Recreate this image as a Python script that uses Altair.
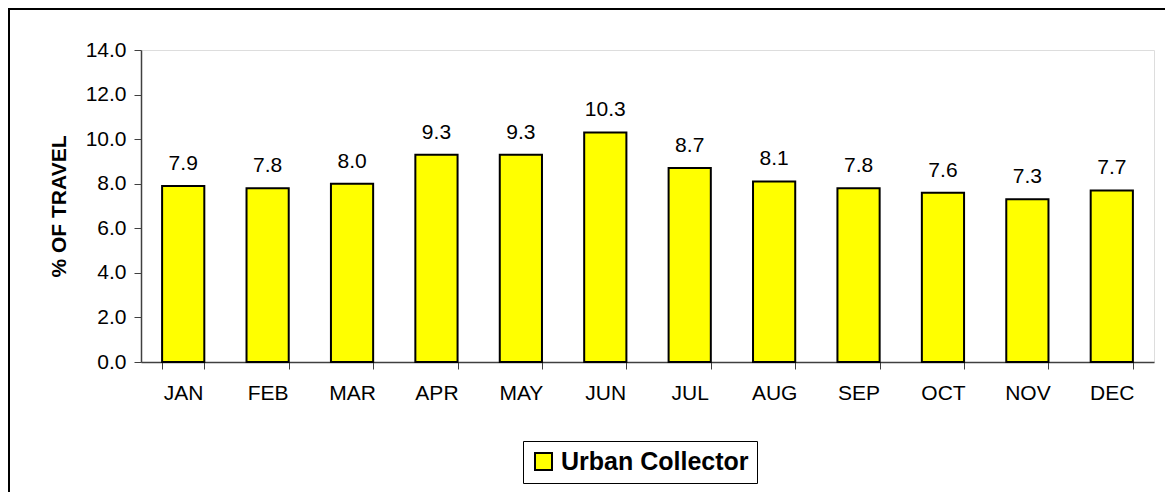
import altair as alt
import pandas as pd

months = ["JAN", "FEB", "MAR", "APR", "MAY", "JUN", "JUL", "AUG", "SEP", "OCT", "NOV", "DEC"]
values = [7.9, 7.8, 8.0, 9.3, 9.3, 10.3, 8.7, 8.1, 7.8, 7.6, 7.3, 7.7]
series = "Urban Collector"
y_ticks = [0, 2, 4, 6, 8, 10, 12, 14]

df = pd.DataFrame({"month": months, "value": values, "series": [series] * len(months)})

FONT = "Liberation Sans"
W, H = 1013, 312

x_enc = alt.X("month:N", sort=months, scale=alt.Scale(paddingInner=0.5, paddingOuter=0.25),
              axis=alt.Axis(title=None, labelAngle=0, tickBand="extent", labelFontSize=21,
                            labelFont=FONT, labelColor="black", labelPadding=13, tickSize=7,
                            domainColor="#404040", tickColor="#404040", domainWidth=1.5))
y_enc = alt.Y("value:Q", scale=alt.Scale(domain=[0, 14], nice=False),
              axis=alt.Axis(title="% OF TRAVEL", values=y_ticks, format=".1f", grid=False,
                            labelFontSize=21, labelFont=FONT, labelColor="black", labelPadding=8,
                            tickSize=7, titleFont=FONT, titleFontSize=21, titleFontWeight="bold",
                            titleColor="black", titlePadding=16,
                            domainColor="#404040", tickColor="#404040", domainWidth=1.5))

bars = alt.Chart(df).mark_bar(stroke="black", strokeWidth=2).encode(
    x=x_enc,
    y=y_enc,
    color=alt.Color("series:N", scale=alt.Scale(domain=[series], range=["#FFFF00"]),
                    legend=alt.Legend(title=None, orient="none", legendX=382, legendY=391,
                                      strokeColor="black", fillColor="white", padding=8,
                                      labelFontSize=25, labelFont=FONT, labelFontWeight="bold",
                                      labelColor="black", symbolType="square", symbolSize=289,
                                      symbolStrokeColor="black", symbolStrokeWidth=2,
                                      labelOffset=5, labelLimit=500)),
)

labels = alt.Chart(df).mark_text(font=FONT, fontSize=21, color="black", baseline="alphabetic",
                                 dy=-16).encode(
    x=alt.X("month:N", sort=months),
    y="value:Q",
    text=alt.Text("value:Q", format=".1f"),
)

border = alt.Chart(pd.DataFrame({"a": [0]})).mark_rect(fill=None, stroke="black", strokeWidth=2,
                                                       filled=False).encode(
    x=alt.value(-132), x2=alt.value(W + 100), y=alt.value(-41), y2=alt.value(H + 300)
)

chart = alt.layer(border, bars, labels).properties(
    width=W, height=H,
    padding={"left": 133, "top": 42, "right": 11, "bottom": 130},
    autosize=alt.AutoSizeParams(type="none"),
).configure_view(stroke="#808080", strokeWidth=1.5).configure(background="white")

chart.save("out.html", embed_options={"renderer": "svg", "actions": False})
